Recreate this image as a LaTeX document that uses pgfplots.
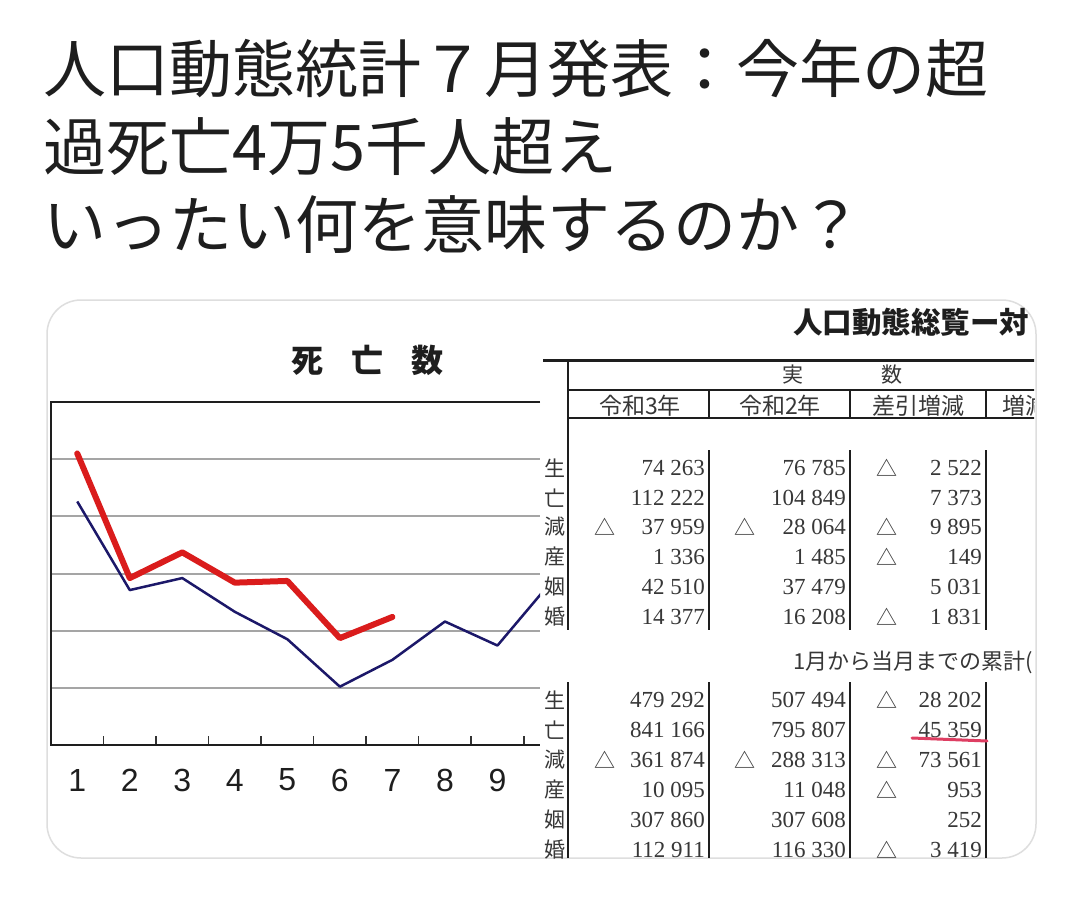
\documentclass[border=0pt]{standalone}
\usepackage{pgfplots}
\pgfplotsset{compat=1.18}
\usepackage{fontspec}
\setmainfont{Liberation Sans}
\newfontfamily\cjk{Noto Sans CJK JP}
\newfontfamily\numfont{Liberation Serif}

\definecolor{redline}{RGB}{218,28,28}
\definecolor{navyline}{RGB}{28,24,105}
\definecolor{gridgray}{RGB}{165,165,165}
\definecolor{cardedge}{RGB}{222,222,222}
\definecolor{ink}{RGB}{30,30,30}
\definecolor{tabink}{RGB}{55,55,55}
\definecolor{pen}{RGB}{222,62,98}

% one table row: y, label, tri1, value1, tri2, value2, tri3, value3
\newcommand{\trow}[8]{%
  \node[anchor=east, font=\cjk\fontsize{21}{21}\selectfont] at (566,#1) {#2};
  \node[font=\cjk\fontsize{21}{21}\selectfont] at (605,#1) {#3};
  \node[anchor=east, font=\numfont\fontsize{23}{23}\selectfont] at (705,#1) {#4};
  \node[font=\cjk\fontsize{21}{21}\selectfont] at (745,#1) {#5};
  \node[anchor=east, font=\numfont\fontsize{23}{23}\selectfont] at (846,#1) {#6};
  \node[font=\cjk\fontsize{21}{21}\selectfont] at (887,#1) {#7};
  \node[anchor=east, font=\numfont\fontsize{23}{23}\selectfont] at (982,#1) {#8};
}

\begin{document}
\begin{tikzpicture}
\begin{scope}[x=1pt, y=-1pt]
  \path[fill=white] (0,0) rectangle (1080,907);
  % headline
  \node[anchor=west, inner sep=0, text=ink, font=\cjk\fontsize{63}{63}\selectfont] at (43,69) {人口動態統計７月発表：今年の超};
  \node[anchor=west, inner sep=0, text=ink, font=\cjk\fontsize{63}{63}\selectfont] at (43,147) {過死亡4万5千人超え};
  \node[anchor=west, inner sep=0, text=ink, font=\cjk\fontsize{63}{63}\selectfont] at (43,225) {いったい何を意味するのか？};
  % card
  \draw[cardedge, line width=1.5pt, rounded corners=34pt] (47,300) rectangle (1036,858);
  % chart title
  \node[inner sep=0, text=ink, font=\cjk\bfseries\fontsize{32}{32}\selectfont] at (367,360) {死\hspace{28pt}亡\hspace{28pt}数};
\end{scope}

\begin{axis}[
  at={(51pt,-745pt)}, anchor=south west,
  scale only axis, width=489pt, height=343pt,
  xmin=0.5, xmax=9.81, ymin=0, ymax=6,
  axis line style={draw=none},
  xtick={1,...,9},
  minor xtick={1.5,2.5,...,9.5},
  ytick={1,...,5}, yticklabels={},
  ymajorgrids, major grid style={gridgray, line width=2pt},
  major tick length=0pt, minor tick length=9pt,
  minor tick style={black!80, line width=1.6pt},
  tick pos=left, tick align=inside,
  /pgf/number format/assume math mode=true,
  xticklabel style={font=\fontsize{32}{32}\selectfont, text=ink,
    anchor=center, yshift=-35pt, inner sep=0pt},
  clip=true,
]
  % previous year
  \addplot[navyline, line width=2.5pt, line join=round] coordinates {
    (1,4.26) (2,2.71) (3,2.92) (4,2.33) (5,1.85) (6,1.02)
    (7,1.49) (8,2.16) (9,1.74) (10,2.83)
  };
  % this year
  \addplot[redline, line width=6pt, line join=round, line cap=round] coordinates {
    (1,5.10) (2,2.92) (3,3.37) (4,2.84) (5,2.87) (6,1.87) (7,2.24)
  };
\end{axis}

\begin{scope}[x=1pt, y=-1pt]
  % chart frame, open on the right
  \draw[ink, line width=2.5pt] (540,402) -- (51,402) -- (51,745) -- (540,745);

  % table
  \tikzset{every node/.style={inner sep=0, text=tabink}}
  \node[anchor=west, font=\cjk\bfseries\fontsize{29.5}{29.5}\selectfont, text=ink] at (793,322) {人口動態総覧ー対};
  \node[anchor=west, font=\cjk\fontsize{22}{22}\selectfont] at (793,662) {1月から当月までの累計(};
  \begin{scope}
    \clip (543,295) rectangle (1034,866);
    \draw[ink, line width=3pt] (540,360) -- (1040,360);
    \draw[ink, line width=2.5pt] (568,390) -- (1040,390);
    \draw[ink, line width=2.5pt] (568,418) -- (1040,418);
    \node[font=\cjk\fontsize{21}{21}\selectfont] at (793,375) {実};
    \node[font=\cjk\fontsize{21}{21}\selectfont] at (892,375) {数};
    \node[font=\cjk\fontsize{23}{23}\selectfont] at (640,406) {令和3年};
    \node[font=\cjk\fontsize{23}{23}\selectfont] at (780,406) {令和2年};
    \node[font=\cjk\fontsize{23}{23}\selectfont] at (918,406) {差引増減};
    \node[anchor=west, font=\cjk\fontsize{23}{23}\selectfont] at (1002,406) {増減};
    \draw[ink, line width=2.5pt] (568,360) -- (568,630);
    \foreach \x in {709,850,986} {
      \draw[ink, line width=2.5pt] (\x,390) -- (\x,418);
      \draw[ink, line width=2.5pt] (\x,450) -- (\x,630);
      \draw[ink, line width=2.5pt] (\x,682) -- (\x,858);
    }
    \draw[ink, line width=2.5pt] (568,682) -- (568,858);

    \trow{468}{生}{}{74 263}{}{76 785}{△}{2 522}
    \trow{498}{亡}{}{112 222}{}{104 849}{}{7 373}
    \trow{527}{減}{△}{37 959}{△}{28 064}{△}{9 895}
    \trow{557}{産}{}{1 336}{}{1 485}{△}{149}
    \trow{587}{姻}{}{42 510}{}{37 479}{}{5 031}
    \trow{617}{婚}{}{14 377}{}{16 208}{△}{1 831}

    \trow{700}{生}{}{479 292}{}{507 494}{△}{28 202}
    \trow{730}{亡}{}{841 166}{}{795 807}{}{45 359}
    \trow{760}{減}{△}{361 874}{△}{288 313}{△}{73 561}
    \trow{790}{産}{}{10 095}{}{11 048}{△}{953}
    \trow{820}{姻}{}{307 860}{}{307 608}{}{252}
    \trow{850}{婚}{}{112 911}{}{116 330}{△}{3 419}

    \draw[pen, line width=3pt, line cap=round] (912,738) .. controls (950,740) .. (987,741);
  \end{scope}
\end{scope}
\end{tikzpicture}
\end{document}
